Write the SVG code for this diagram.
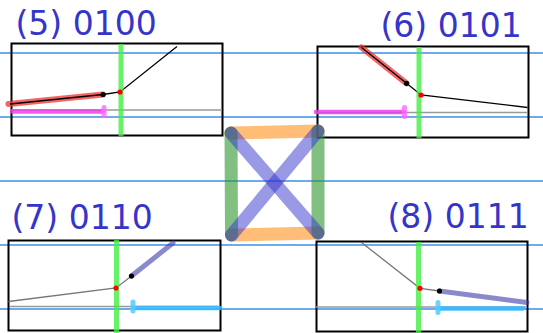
<svg xmlns="http://www.w3.org/2000/svg" width="543" height="333" viewBox="0 0 543 333">
<style>
.t{font-family:"DejaVu Sans",sans-serif;font-size:33px;fill:#3535c8}
.guide{stroke:#3d8ee8;stroke-width:1.3}
.box{fill:none;stroke:#000;stroke-width:2}
.gv{stroke:#44ee44;stroke-opacity:0.8;stroke-width:5}
.blk{stroke:#000;stroke-width:1.3;fill:none}
.gry{stroke:#777;stroke-width:1.3;fill:none}
.base{stroke:#999;stroke-width:1.5}
.red{stroke:#ee3333;stroke-opacity:0.75;stroke-width:6;stroke-linecap:round}
.mag{stroke:#ee33ee;stroke-opacity:0.8;stroke-width:4.5;stroke-linecap:round}
.magt{stroke:#ff66ff;stroke-opacity:0.8;stroke-width:5;stroke-linecap:round}
.cyan{stroke:#33bbff;stroke-opacity:0.85;stroke-width:4.5;stroke-linecap:round}
.cyant{stroke:#55ccff;stroke-opacity:0.85;stroke-width:5;stroke-linecap:round}
.pur{stroke:#3a3aaa;stroke-opacity:0.6;stroke-width:5;stroke-linecap:round}
.x{stroke-width:13;stroke-linecap:round;fill:none}
</style>
<g id="guides">
<line class="guide" x1="0" y1="53" x2="543" y2="53"/>
<line class="guide" x1="0" y1="117" x2="543" y2="117"/>
<line class="guide" x1="0" y1="181" x2="543" y2="181"/>
<line class="guide" x1="0" y1="245" x2="543" y2="245"/>
<line class="guide" x1="0" y1="309" x2="543" y2="309"/>
</g>
<g id="node5">
<text class="t" x="15.5" y="35">(5) 0100</text>
<rect class="box" x="11.5" y="43.5" width="211" height="92"/>
<line class="base" x1="11" y1="110" x2="222" y2="110"/>
<line class="mag" x1="12" y1="111.5" x2="103" y2="111.5"/>
<line class="magt" x1="104" y1="107.5" x2="104" y2="115.5"/>
<line class="red" x1="8.5" y1="104" x2="103" y2="94.5"/>
<polyline class="blk" points="10,104 103,94.5 120,92 177,46.5"/>
<line class="gv" x1="121" y1="44" x2="121" y2="136"/>
<circle cx="103" cy="94.5" r="2.6" fill="#000"/>
<circle cx="120" cy="92" r="2.6" fill="#f00"/>
</g>
<g id="node6">
<text class="t" x="380.5" y="37">(6) 0101</text>
<rect class="box" x="317.5" y="46.5" width="211" height="91"/>
<line class="base" x1="317" y1="112.5" x2="527" y2="112.5"/>
<line class="mag" x1="316" y1="112" x2="404" y2="112"/>
<line class="magt" x1="404.5" y1="107.5" x2="404.5" y2="116.5"/>
<line class="red" x1="361.5" y1="47.5" x2="406.5" y2="83.3"/>
<polyline class="blk" points="361.5,47.5 406.5,83.3 421,95 527.5,107.5"/>
<line class="gv" x1="419" y1="47" x2="419" y2="138"/>
<circle cx="406.5" cy="83.3" r="2.6" fill="#000"/>
<circle cx="421" cy="95" r="2.6" fill="#f00"/>
</g>
<g id="node7">
<text class="t" x="11.5" y="229">(7) 0110</text>
<rect class="box" x="8.5" y="240.5" width="212" height="90"/>
<line class="base" x1="10" y1="306.5" x2="220" y2="306.5"/>
<line class="cyan" x1="133" y1="308" x2="220" y2="308"/>
<line class="cyant" x1="133" y1="302" x2="133" y2="311"/>
<line class="pur" x1="131.5" y1="276" x2="173" y2="243"/>
<polyline class="gry" points="8.5,301.5 116,288 131.5,276"/>
<line class="gv" x1="116.5" y1="240" x2="116.5" y2="333"/>
<circle cx="131.5" cy="276" r="2.6" fill="#000"/>
<circle cx="116" cy="288" r="2.6" fill="#f00"/>
</g>
<g id="node8">
<text class="t" x="387.5" y="228">(8) 0111</text>
<rect class="box" x="316.5" y="241.5" width="211" height="90"/>
<line class="base" x1="316" y1="307" x2="527" y2="307"/>
<line class="cyan" x1="438" y1="308.5" x2="523" y2="308.5"/>
<line class="cyant" x1="438" y1="302.5" x2="438" y2="312.5"/>
<line class="pur" x1="439.5" y1="291" x2="527" y2="302.5"/>
<polyline class="gry" points="361.5,242.5 420,288.3 439.5,291"/>
<line class="gv" x1="418.5" y1="242" x2="418.5" y2="333"/>
<circle cx="439.5" cy="291" r="2.6" fill="#000"/>
<circle cx="420" cy="288.3" r="2.6" fill="#f00"/>
</g>
<g id="connectors">
<line class="x" x1="231" y1="133" x2="318" y2="131" stroke="#ff9a30" stroke-opacity="0.65"/>
<line class="x" x1="231.5" y1="235" x2="318" y2="233" stroke="#ff9a30" stroke-opacity="0.65"/>
<line class="x" x1="231" y1="133" x2="231.5" y2="235" stroke="#2e962e" stroke-opacity="0.6"/>
<line class="x" x1="318" y1="131" x2="318" y2="233" stroke="#2e962e" stroke-opacity="0.6"/>
<line class="x" x1="231" y1="133" x2="318" y2="233" stroke="#3333cc" stroke-opacity="0.5"/>
<line class="x" x1="318" y1="131" x2="231.5" y2="235" stroke="#3333cc" stroke-opacity="0.5"/>
</g>
</svg>
